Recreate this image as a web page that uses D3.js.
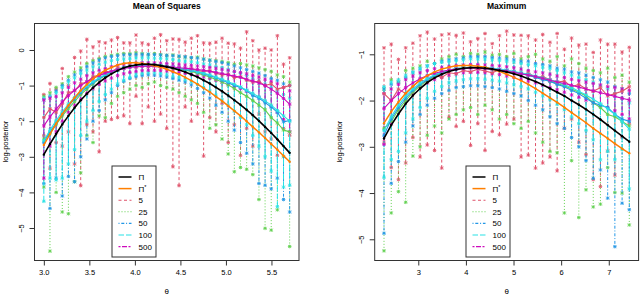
<!DOCTYPE html>
<html>
  <head>
    <meta charset="utf-8">
    <script src="https://d3js.org/d3.v7.min.js"></script>
    <title>Mean of Squares / Maximum</title>
    <style>
      body { margin: 0; background: #fff; }
      svg text { font-family: "Liberation Sans", Arial, Helvetica, sans-serif; fill: #000; }
    </style>
  </head>
  <body>
    <div id="plot"></div>
    <script>

    // ---- left panel: Mean of Squares ----
    const thetaL = [
      3.0000,3.0675,3.1350,3.2025,3.2700,3.3375,3.4050,3.4725,3.5400,3.6075,
      3.6750,3.7425,3.8100,3.8775,3.9450,4.0125,4.0800,4.1475,4.2150,4.2825,
      4.3500,4.4175,4.4850,4.5525,4.6200,4.6875,4.7550,4.8225,4.8900,4.9575,
      5.0250,5.0925,5.1600,5.2275,5.2950,5.3625,5.4300,5.4975,5.5650,5.6325,
      5.7000];
    const piL = [
      -2.94,-2.64,-2.36,-2.09,-1.85,-1.62,-1.41,-1.23,-1.06,-0.91,
      -0.78,-0.67,-0.58,-0.50,-0.45,-0.42,-0.40,-0.40,-0.41,-0.44,
      -0.47,-0.51,-0.56,-0.62,-0.69,-0.76,-0.85,-0.94,-1.05,-1.16,
      -1.28,-1.41,-1.54,-1.68,-1.83,-1.99,-2.16,-2.33,-2.51,-2.70,
      -2.89];
    const piStarL = [
      -2.67,-2.36,-2.07,-1.80,-1.56,-1.34,-1.14,-0.97,-0.81,-0.68,
      -0.57,-0.49,-0.42,-0.38,-0.36,-0.36,-0.38,-0.40,-0.44,-0.48,
      -0.54,-0.61,-0.68,-0.77,-0.86,-0.96,-1.07,-1.18,-1.31,-1.43,
      -1.57,-1.71,-1.85,-2.00,-2.16,-2.31,-2.47,-2.64,-2.80,-2.97,
      -3.14];

    const mid5L = [
      -1.90,-1.65,-1.75,-1.50,-1.20,-1.15,-0.95,-0.90,-0.75,-0.70,
      -0.60,-0.62,-0.50,-0.52,-0.45,-0.48,-0.44,-0.47,-0.45,-0.50,
      -0.48,-0.52,-0.50,-0.55,-0.53,-0.58,-0.60,-0.58,-0.65,-0.70,
      -0.68,-0.78,-0.75,-0.85,-0.90,-0.88,-1.00,-0.95,-1.10,-1.05,
      -1.00];
    const lo5L = [
      -2.40,-3.32,-2.60,-2.70,-2.30,-3.20,-3.81,-2.10,-2.30,-2.86,
      -2.00,-1.95,-1.90,-1.85,-2.07,-1.30,-2.07,-1.60,-2.00,-1.80,
      -2.20,-3.28,-3.81,-1.60,-2.00,-1.80,-2.98,-1.90,-2.30,-1.50,
      -2.60,-2.10,-2.96,-2.20,-2.70,-1.80,-2.30,-2.50,-2.96,-2.20,
      -2.40];
    const hi5L = [
      -1.25,-0.94,-1.10,-0.52,-0.99,-0.21,-0.03,0.30,0.09,0.23,
      0.20,0.28,0.35,0.20,0.20,0.42,0.20,0.16,0.33,0.43,
      0.26,0.31,0.30,0.22,0.33,0.40,0.20,0.19,0.22,0.33,
      0.19,0.17,0.05,0.51,0.26,0.00,0.05,0.00,0.40,-0.40,
      -0.22];

    const mid25L = [
      -2.50,-2.35,-2.10,-1.85,-1.65,-1.45,-1.25,-1.10,-0.95,-0.82,
      -0.72,-0.63,-0.56,-0.50,-0.46,-0.44,-0.42,-0.41,-0.43,-0.45,
      -0.47,-0.50,-0.53,-0.57,-0.60,-0.65,-0.70,-0.76,-0.83,-0.90,
      -0.98,-1.08,-1.20,-1.30,-1.42,-1.55,-1.68,-1.90,-2.05,-2.25,
      -2.30];
    const lo25L = [
      -3.85,-5.65,-4.00,-4.55,-4.60,-3.70,-3.45,-2.40,-2.60,-1.85,
      -1.90,-1.50,-1.30,-1.20,-1.10,-1.00,-1.05,-0.95,-0.90,-1.00,
      -1.05,-1.10,-1.20,-1.30,-1.40,-1.50,-1.75,-2.20,-2.10,-2.50,
      -2.92,-3.42,-3.30,-3.35,-3.50,-4.20,-5.01,-5.06,-4.49,-3.00,
      -5.52];
    const hi25L = [
      -1.30,-1.20,-1.05,-0.95,-0.75,-0.62,-0.50,-0.38,-0.30,-0.24,
      -0.18,-0.15,-0.12,-0.10,-0.10,-0.08,-0.10,-0.12,-0.10,-0.13,
      -0.15,-0.14,-0.18,-0.20,-0.22,-0.20,-0.25,-0.28,-0.30,-0.32,
      -0.35,-0.40,-0.38,-0.42,-0.45,-0.50,-0.55,-0.60,-0.70,-0.75,
      -0.90];

    const mid50L = [
      -2.60,-2.30,-2.05,-1.80,-1.58,-1.38,-1.20,-1.04,-0.92,-0.80,
      -0.71,-0.62,-0.56,-0.50,-0.47,-0.44,-0.43,-0.42,-0.43,-0.45,
      -0.47,-0.49,-0.52,-0.55,-0.58,-0.62,-0.67,-0.72,-0.78,-0.85,
      -0.92,-1.00,-1.05,-1.15,-1.28,-1.35,-1.48,-1.60,-1.75,-2.02,
      -1.98];
    const lo50L = [
      -3.75,-4.45,-3.60,-4.10,-3.55,-3.70,-3.00,-2.50,-2.00,-1.70,
      -1.40,-1.20,-1.00,-0.88,-0.80,-0.75,-0.72,-0.70,-0.71,-0.73,
      -0.76,-0.80,-0.85,-0.90,-0.98,-1.08,-1.20,-1.35,-1.55,-1.75,
      -2.00,-2.25,-2.60,-2.90,-3.20,-3.75,-3.80,-3.90,-3.60,-4.20,
      -4.55];
    const hi50L = [
      -1.40,-1.30,-1.15,-1.00,-0.85,-0.70,-0.58,-0.46,-0.36,-0.28,
      -0.22,-0.18,-0.16,-0.14,-0.13,-0.12,-0.12,-0.12,-0.13,-0.14,
      -0.15,-0.16,-0.17,-0.19,-0.21,-0.23,-0.26,-0.29,-0.32,-0.35,
      -0.40,-0.45,-0.50,-0.55,-0.60,-0.65,-0.72,-0.80,-0.85,-0.95,
      -1.00];

    const mid100L = [
      -2.55,-2.25,-1.98,-1.74,-1.52,-1.33,-1.16,-1.01,-0.89,-0.78,
      -0.69,-0.61,-0.55,-0.50,-0.46,-0.44,-0.42,-0.42,-0.43,-0.44,
      -0.46,-0.48,-0.51,-0.54,-0.57,-0.61,-0.65,-0.70,-0.76,-0.82,
      -0.89,-0.96,-1.04,-1.13,-1.22,-1.32,-1.43,-1.55,-1.70,-1.85,
      -2.00];
    const lo100L = [
      -4.25,-3.60,-3.65,-3.60,-3.20,-2.80,-2.40,-2.00,-1.70,-1.45,
      -1.25,-1.10,-0.95,-0.85,-0.77,-0.70,-0.66,-0.64,-0.64,-0.66,
      -0.70,-0.74,-0.78,-0.84,-0.90,-0.97,-1.05,-1.15,-1.27,-1.40,
      -1.55,-1.72,-1.90,-2.10,-2.40,-2.70,-3.00,-3.40,-4.40,-3.85,
      -3.80];
    const hi100L = [
      -1.35,-1.30,-1.20,-1.05,-0.90,-0.78,-0.66,-0.56,-0.47,-0.40,
      -0.34,-0.30,-0.27,-0.25,-0.23,-0.22,-0.22,-0.22,-0.23,-0.24,
      -0.25,-0.27,-0.29,-0.31,-0.33,-0.36,-0.39,-0.42,-0.46,-0.50,
      -0.55,-0.60,-0.66,-0.72,-0.80,-0.88,-0.96,-1.05,-1.15,-1.25,
      -1.35];

    const mid500L = [
      -2.13,-1.88,-1.66,-1.46,-1.28,-1.13,-1.00,-0.89,-0.80,-0.72,
      -0.65,-0.60,-0.55,-0.52,-0.49,-0.47,-0.46,-0.45,-0.45,-0.46,
      -0.47,-0.48,-0.50,-0.51,-0.53,-0.55,-0.57,-0.60,-0.63,-0.66,
      -0.70,-0.73,-0.77,-0.82,-0.87,-0.93,-1.00,-1.10,-1.22,-1.36,
      -1.52];
    const lo500L = [
      -3.60,-2.70,-2.30,-2.00,-1.75,-1.55,-1.38,-1.22,-1.09,-0.97,
      -0.87,-0.79,-0.72,-0.67,-0.63,-0.60,-0.58,-0.57,-0.57,-0.58,
      -0.59,-0.61,-0.63,-0.66,-0.69,-0.72,-0.76,-0.80,-0.85,-0.90,
      -0.96,-1.02,-1.09,-1.16,-1.25,-1.34,-1.45,-1.58,-1.75,-1.95,
      -2.30];
    const hi500L = [
      -1.40,-1.35,-1.30,-1.20,-1.05,-0.92,-0.82,-0.72,-0.64,-0.57,
      -0.52,-0.47,-0.43,-0.40,-0.38,-0.37,-0.36,-0.36,-0.36,-0.37,
      -0.38,-0.39,-0.40,-0.42,-0.43,-0.45,-0.47,-0.49,-0.51,-0.54,
      -0.57,-0.60,-0.63,-0.67,-0.71,-0.76,-0.82,-0.88,-0.95,-1.05,
      -1.15];

    // ---- right panel: Maximum ----
    const thetaR = [
      2.280,2.432,2.583,2.735,2.886,3.038,3.189,3.341,3.492,3.644,
      3.795,3.947,4.098,4.250,4.401,4.553,4.704,4.856,5.007,5.159,
      5.310,5.462,5.613,5.765,5.916,6.068,6.219,6.371,6.522,6.674,
      6.825,6.977,7.128,7.280,7.431];
    const piR = [
      -2.82,-2.53,-2.29,-2.07,-1.89,-1.74,-1.61,-1.51,-1.43,-1.37,
      -1.33,-1.30,-1.29,-1.29,-1.30,-1.32,-1.35,-1.38,-1.42,-1.47,
      -1.53,-1.59,-1.66,-1.74,-1.82,-1.90,-2.00,-2.09,-2.19,-2.30,
      -2.41,-2.53,-2.65,-2.77,-2.89];
    const piStarR = [
      -2.49,-2.24,-2.03,-1.84,-1.69,-1.56,-1.46,-1.38,-1.32,-1.28,
      -1.25,-1.24,-1.24,-1.26,-1.28,-1.32,-1.37,-1.43,-1.50,-1.57,
      -1.65,-1.74,-1.84,-1.94,-2.04,-2.15,-2.26,-2.37,-2.48,-2.60,
      -2.71,-2.82,-2.93,-3.04,-3.14];

    const mid5R = [
      -1.85,-2.00,-1.75,-1.85,-1.70,-1.55,-1.60,-1.45,-1.50,-1.40,
      -1.42,-1.35,-1.38,-1.32,-1.36,-1.40,-1.33,-1.38,-1.42,-1.45,
      -1.40,-1.50,-1.48,-1.55,-1.60,-1.58,-1.70,-1.65,-1.75,-1.80,
      -1.72,-1.90,-1.85,-1.80,-1.70];
    const lo5R = [
      -2.90,-3.45,-3.71,-3.35,-2.80,-3.22,-2.96,-3.08,-3.46,-2.36,
      -2.56,-2.45,-2.97,-2.50,-3.08,-2.67,-2.74,-2.51,-2.40,-3.22,
      -3.18,-3.46,-3.35,-3.22,-3.52,-2.60,-2.40,-2.90,-3.17,-3.71,
      -3.86,-3.09,-3.61,-2.80,-2.50];
    const hi5R = [
      -0.86,-0.78,-1.11,-0.86,-0.76,-0.60,-0.52,-0.67,-0.58,-0.56,
      -0.59,-0.54,-0.73,-0.66,-0.55,-0.77,-0.60,-0.50,-0.58,-0.59,
      -0.60,-0.69,-0.57,-0.74,-0.55,-0.89,-0.65,-0.80,-0.78,-0.96,
      -0.69,-0.78,-0.78,-0.95,-0.85];

    const mid25R = [
      -2.60,-2.45,-2.20,-2.00,-1.82,-1.68,-1.56,-1.47,-1.40,-1.35,
      -1.31,-1.29,-1.28,-1.28,-1.29,-1.31,-1.33,-1.35,-1.38,-1.41,
      -1.45,-1.49,-1.53,-1.58,-1.63,-1.68,-1.75,-1.82,-1.90,-2.05,
      -2.15,-2.30,-2.35,-2.45,-2.55];
    const lo25R = [
      -5.25,-4.43,-3.97,-4.20,-3.20,-3.00,-2.75,-2.55,-2.70,-2.40,
      -2.30,-2.20,-2.15,-2.30,-2.10,-2.20,-2.40,-2.30,-2.50,-2.60,
      -2.45,-2.70,-2.90,-3.10,-3.13,-4.43,-3.30,-4.53,-3.93,-4.30,
      -4.24,-3.45,-3.99,-4.00,-4.69];
    const hi25R = [
      -1.75,-1.55,-1.60,-1.35,-1.30,-1.25,-1.15,-1.20,-1.10,-1.05,
      -1.00,-1.05,-0.98,-1.00,-0.95,-1.02,-1.00,-1.05,-0.98,-1.10,
      -1.05,-1.00,-1.10,-1.15,-1.05,-1.25,-1.10,-1.20,-1.30,-1.35,
      -1.40,-1.30,-1.50,-1.45,-1.60];

    const mid50R = [
      -2.75,-2.40,-2.15,-1.95,-1.78,-1.65,-1.55,-1.46,-1.40,-1.35,
      -1.32,-1.30,-1.28,-1.28,-1.29,-1.31,-1.33,-1.36,-1.38,-1.42,
      -1.45,-1.50,-1.55,-1.58,-1.65,-1.70,-1.78,-1.85,-1.95,-2.05,
      -2.10,-2.15,-2.30,-2.40,-2.45];
    const lo50R = [
      -4.87,-3.79,-3.32,-2.90,-2.55,-2.30,-2.10,-1.95,-1.85,-1.78,
      -1.72,-1.70,-1.68,-1.68,-1.70,-1.72,-1.75,-1.80,-1.85,-1.90,
      -2.00,-2.10,-2.20,-2.35,-2.50,-2.60,-2.80,-3.00,-3.30,-3.68,
      -3.50,-4.11,-5.16,-4.22,-4.36];
    const hi50R = [
      -1.75,-1.65,-1.60,-1.50,-1.40,-1.32,-1.25,-1.20,-1.15,-1.12,
      -1.10,-1.08,-1.05,-1.05,-1.05,-1.07,-1.08,-1.10,-1.12,-1.15,
      -1.15,-1.20,-1.22,-1.25,-1.30,-1.32,-1.38,-1.40,-1.45,-1.50,
      -1.55,-1.60,-1.70,-1.75,-1.85];

    const mid100R = [
      -2.65,-2.35,-2.10,-1.90,-1.75,-1.62,-1.52,-1.44,-1.38,-1.34,
      -1.31,-1.29,-1.28,-1.28,-1.29,-1.30,-1.32,-1.34,-1.37,-1.40,
      -1.43,-1.47,-1.51,-1.55,-1.60,-1.66,-1.72,-1.80,-1.88,-1.97,
      -2.07,-2.18,-2.30,-2.45,-2.62];
    const lo100R = [
      -3.66,-3.28,-3.10,-2.70,-2.40,-2.15,-1.95,-1.80,-1.70,-1.62,
      -1.58,-1.55,-1.53,-1.53,-1.54,-1.56,-1.58,-1.62,-1.66,-1.70,
      -1.75,-1.82,-1.90,-1.98,-2.08,-2.20,-2.35,-2.50,-2.65,-2.85,
      -3.28,-3.10,-3.28,-3.06,-3.91];
    const hi100R = [
      -1.70,-1.60,-1.55,-1.45,-1.38,-1.30,-1.25,-1.20,-1.17,-1.15,
      -1.13,-1.12,-1.10,-1.10,-1.10,-1.12,-1.13,-1.15,-1.17,-1.20,
      -1.22,-1.25,-1.28,-1.30,-1.35,-1.40,-1.45,-1.50,-1.55,-1.60,
      -1.68,-1.75,-1.85,-1.95,-2.05];

    const mid500R = [
      -2.17,-2.00,-1.85,-1.72,-1.62,-1.53,-1.46,-1.41,-1.37,-1.34,
      -1.32,-1.31,-1.30,-1.30,-1.31,-1.32,-1.34,-1.36,-1.39,-1.42,
      -1.45,-1.48,-1.52,-1.56,-1.60,-1.63,-1.67,-1.71,-1.75,-1.79,
      -1.83,-1.87,-1.91,-1.95,-1.99];
    const lo500R = [
      -2.95,-2.50,-2.20,-2.00,-1.85,-1.72,-1.62,-1.55,-1.50,-1.45,
      -1.42,-1.40,-1.39,-1.39,-1.40,-1.42,-1.44,-1.47,-1.50,-1.54,
      -1.58,-1.62,-1.67,-1.72,-1.77,-1.82,-1.88,-1.93,-1.99,-2.05,
      -2.10,-2.15,-2.22,-2.30,-2.40];
    const hi500R = [
      -1.85,-1.75,-1.65,-1.55,-1.47,-1.40,-1.35,-1.31,-1.28,-1.26,
      -1.24,-1.23,-1.22,-1.22,-1.23,-1.24,-1.25,-1.27,-1.29,-1.32,
      -1.35,-1.38,-1.40,-1.43,-1.47,-1.50,-1.54,-1.57,-1.60,-1.63,
      -1.66,-1.70,-1.72,-1.75,-1.78];

    // legend and styles
    const legendLabels = ["Π", "Π*", "5", "25", "50", "100", "500"];
    const seriesColors = ["#DF536B", "#61D04F", "#2297E6", "#28E2E5", "#CD0BBC"];
    const seriesDash = ["3,2.5", "1,2", "1,1.8,3,1.8", "5.5,2", "2,1.5,5,1.5"];
    const piColor = "#000000", piStarColor = "#FF7F00";

    const svg = d3.select("#plot")
      .append("svg")
        .attr("width", 640)
        .attr("height", 295);

    // small asterisk marker for bar ends and means
    const mark = "M-1.5,-1.5L1.5,1.5M1.5,-1.5L-1.5,1.5M0,-1.8V1.8M-1.8,0H1.8";

    function drawPanel(p) {
      const x = d3.scaleLinear().domain(p.xdom).range([p.left, p.right]);
      const y = d3.scaleLinear().domain(p.ydom).range([p.bottom, p.top]);
      const g = svg.append("g");

      // dashed range bars
      p.series.forEach(function(s, k) {
        g.append("g").selectAll("line")
          .data(p.theta)
          .enter()
          .append("line")
            .attr("x1", function(d) { return x(d); })
            .attr("x2", function(d) { return x(d); })
            .attr("y1", function(d, i) { return y(s.lo[i]); })
            .attr("y2", function(d, i) { return y(s.hi[i]); })
            .attr("stroke", seriesColors[k])
            .attr("stroke-width", 1)
            .attr("stroke-dasharray", seriesDash[k]);

        const ends = [];
        p.theta.forEach(function(t, i) {
          ends.push([t, s.lo[i]]);
          ends.push([t, s.hi[i]]);
        });
        g.append("g").selectAll("path")
          .data(ends)
          .enter()
          .append("path")
            .attr("d", mark)
            .attr("transform", function(d) { return "translate(" + x(d[0]) + "," + y(d[1]) + ")"; })
            .attr("fill", "none")
            .attr("stroke", seriesColors[k])
            .attr("stroke-width", 0.8);
      });

      // mean lines
      p.series.forEach(function(s, k) {
        const line = d3.line()
          .x(function(d) { return x(d); })
          .y(function(d, i) { return y(s.mid[i]); });
        g.append("path")
          .datum(p.theta)
          .attr("d", line)
          .attr("fill", "none")
          .attr("stroke", seriesColors[k])
          .attr("stroke-width", 1.1);
        g.append("g").selectAll("path")
          .data(p.theta)
          .enter()
          .append("path")
            .attr("d", mark)
            .attr("transform", function(d, i) { return "translate(" + x(d) + "," + y(s.mid[i]) + ")"; })
            .attr("fill", "none")
            .attr("stroke", seriesColors[k])
            .attr("stroke-width", 0.8);
      });

      // pi and pi* curves
      [[p.piStar, piStarColor, 1.5], [p.pi, piColor, 1.6]].forEach(function(c) {
        const vals = c[0];
        g.append("path")
          .datum(p.theta)
          .attr("d", d3.line()
            .x(function(d) { return x(d); })
            .y(function(d, i) { return y(vals[i]); }))
          .attr("fill", "none")
          .attr("stroke", c[1])
          .attr("stroke-width", c[2]);
        g.append("g").selectAll("circle")
          .data(p.theta)
          .enter()
          .append("circle")
            .attr("cx", function(d) { return x(d); })
            .attr("cy", function(d, i) { return y(vals[i]); })
            .attr("r", 1.2)
            .attr("fill", c[1]);
      });

      // box
      g.append("rect")
        .attr("x", p.left + 0.5)
        .attr("y", p.top + 0.5)
        .attr("width", p.right - p.left - 1)
        .attr("height", p.bottom - p.top)
        .attr("fill", "none")
        .attr("stroke", "#333")
        .attr("stroke-width", 1);

      // x axis
      const xa = g.append("g")
        .attr("transform", "translate(0," + (p.bottom + 0.5) + ")")
        .call(d3.axisBottom(x).tickValues(p.xticks).tickFormat(p.xfmt).tickSize(5).tickPadding(4));
      // y axis
      const ya = g.append("g")
        .attr("transform", "translate(" + (p.left + 0.5) + ",0)")
        .call(d3.axisLeft(y).tickValues(p.yticks).tickFormat(d3.format("d")).tickSize(5).tickPadding(3));
      [xa, ya].forEach(function(a) {
        a.select(".domain").remove();
        a.selectAll(".tick line").attr("stroke", "#333");
        a.selectAll(".tick text")
          .style("font-size", "7.5px")
          .style("font-family", "'Liberation Sans', Arial, sans-serif")
          .attr("fill", "#222");
      });
      // R style vertical y tick labels
      ya.selectAll(".tick text")
        .attr("x", null).attr("dy", null)
        .attr("text-anchor", "middle")
        .attr("transform", "translate(" + (-10.5) + ",0) rotate(-90)");

      // titles
      svg.append("text")
        .attr("x", (p.left + p.right) / 2)
        .attr("y", 8.5)
        .attr("text-anchor", "middle")
        .style("font-size", "8.5px")
        .style("font-weight", "bold")
        .text(p.title);
      svg.append("text")
        .attr("x", (p.left + p.right) / 2)
        .attr("y", 293.5)
        .attr("text-anchor", "middle")
        .style("font-size", "8px")
        .text("θ");
      svg.append("text")
        .attr("transform", "translate(" + p.ylabX + "," + ((p.top + p.bottom) / 2) + ") rotate(-90)")
        .attr("text-anchor", "middle")
        .style("font-size", "7.5px")
        .text("log-posterior");

      // legend
      const lg = svg.append("g").attr("transform", "translate(" + p.legX + "," + p.legY + ")");
      lg.append("rect")
        .attr("x", 0.5).attr("y", 0.5)
        .attr("width", 44).attr("height", 91)
        .attr("fill", "#fff")
        .attr("stroke", "#333");
      legendLabels.forEach(function(lab, i) {
        const yy = 11.5 + i * 11.6;
        let col, dash = null, w = 1.1;
        if (i === 0) { col = piColor; w = 1.5; }
        else if (i === 1) { col = piStarColor; w = 1.5; }
        else { col = seriesColors[i - 2]; dash = seriesDash[i - 2]; }
        lg.append("line")
          .attr("x1", 7).attr("x2", 20)
          .attr("y1", yy).attr("y2", yy)
          .attr("stroke", col)
          .attr("stroke-width", w)
          .attr("stroke-dasharray", dash);
        const t = lg.append("text")
          .attr("x", 27)
          .attr("y", yy + 3)
          .style("font-size", "8px");
        if (i === 1) {
          t.append("tspan").text("Π");
          t.append("tspan").attr("dy", -3).style("font-size", "5.5px").text("*");
        } else {
          t.text(lab);
        }
      });
    }

    drawPanel({
      left: 34, right: 299.5, top: 23, bottom: 260,
      xdom: [2.892, 5.808], ydom: [-5.899, 0.758],
      xticks: [3.0, 3.5, 4.0, 4.5, 5.0, 5.5], xfmt: d3.format(".1f"),
      yticks: [0, -1, -2, -3, -4, -5],
      title: "Mean of Squares", ylabX: 7.5, legX: 111.5, legY: 165.5,
      theta: thetaL, pi: piL, piStar: piStarL,
      series: [
        { mid: mid5L, lo: lo5L, hi: hi5L },
        { mid: mid25L, lo: lo25L, hi: hi25L },
        { mid: mid50L, lo: lo50L, hi: hi50L },
        { mid: mid100L, lo: lo100L, hi: hi100L },
        { mid: mid500L, lo: lo500L, hi: hi500L }
      ]
    });

    drawPanel({
      left: 374.2, right: 639.1, top: 23, bottom: 260,
      xdom: [2.074, 7.637], ydom: [-5.448, -0.323],
      xticks: [3, 4, 5, 6, 7], xfmt: d3.format("d"),
      yticks: [-1, -2, -3, -4, -5],
      title: "Maximum", ylabX: 342, legX: 465.5, legY: 165.5,
      theta: thetaR, pi: piR, piStar: piStarR,
      series: [
        { mid: mid5R, lo: lo5R, hi: hi5R },
        { mid: mid25R, lo: lo25R, hi: hi25R },
        { mid: mid50R, lo: lo50R, hi: hi50R },
        { mid: mid100R, lo: lo100R, hi: hi100R },
        { mid: mid500R, lo: lo500R, hi: hi500R }
      ]
    });

    </script>
  </body>
</html>
